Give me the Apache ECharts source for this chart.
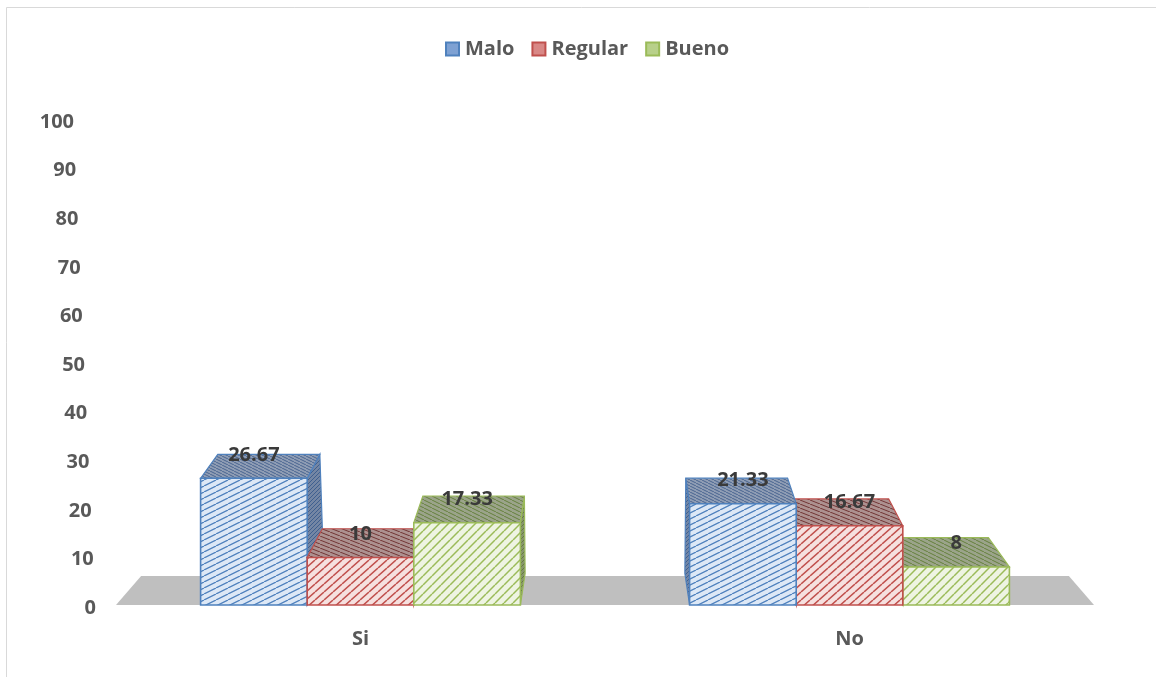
<!DOCTYPE html>
<html><head><meta charset="utf-8">
<script src="https://cdn.jsdelivr.net/npm/echarts@6/dist/echarts.min.js"></script>
<style>html,body{margin:0;padding:0;background:#fff}#c{width:1156px;height:677px}</style>
</head><body><div id="c"></div>
<script>
// ---- data ----
const categories = ['Si', 'No'];
const seriesNames = ['Malo', 'Regular', 'Bueno'];
const malo = [26.67, 21.33];
const regular = [10, 16.67];
const bueno = [17.33, 8];
const yTicks = [0, 10, 20, 30, 40, 50, 60, 70, 80, 90, 100];

// ---- style helpers ----
const FONT = "'Open Sans', 'DejaVu Sans', sans-serif";
const DEPTH0 = 31.6, DEPTH_SLOPE = 0.06, SKEW = 0.00177, FLOOR_DEPTH = 29;

function makePattern(bg, fg, w, h, lw, flip) {
  const c = document.createElement('canvas'); c.width = w; c.height = h;
  const g = c.getContext('2d');
  g.fillStyle = bg; g.fillRect(0, 0, w, h);
  g.strokeStyle = fg; g.lineWidth = lw;
  g.beginPath();
  for (let k = -1; k <= 1; k++) {
    if (!flip) { g.moveTo(k * w, h); g.lineTo((k + 1) * w, 0); }
    else { g.moveTo(k * w, 0); g.lineTo((k + 1) * w, h); }
  }
  g.stroke();
  return { image: c, repeat: 'repeat' };
}

const looks = [
  { border: '#4f81bd', legend: '#7ea1d3',
    front: makePattern('#dde8f6', '#4f81bd', 12, 6, 1.3),
    top: makePattern('#8f9db4', '#4a6590', 6, 3, 1, true),
    side: makePattern('#7486a4', '#3f5f8f', 4, 4, 1) },
  { border: '#c0504d', legend: '#d98886',
    front: makePattern('#f6e0df', '#c0504d', 9, 8, 1.5),
    top: makePattern('#ad9190', '#733736', 10, 4, 1, true),
    side: makePattern('#987574', '#733736', 4, 4, 1) },
  { border: '#9bbb59', legend: '#b8d08a',
    front: makePattern('#eef4e2', '#9bbb59', 9, 9, 1.5),
    top: makePattern('#9ba48a', '#66803c', 8, 4, 1, true),
    side: makePattern('#87946f', '#66803c', 4, 4, 1) }
];

function barRender(si) {
  return function (params, api) {
    const cat = api.value(0), v = api.value(1);
    const cs = params.coordSys;
    const band = api.size([1, 0])[0];
    const bw = band * 0.218;
    const top = api.coord([cat, v]);
    const base = api.coord([cat, 0]);
    const x0 = top[0] + (si - 1) * bw - bw / 2, x1 = x0 + bw;
    const yT = top[1], yB = base[1];
    const vx = cs.x + cs.width / 2;
    const back = (x, y) => {
      const d = DEPTH0 - DEPTH_SLOPE * (yB - y);
      return [x + d * SKEW * (vx - x), y - d];
    };
    const leftOfCenter = (x0 + x1) / 2 < vx;
    const order = leftOfCenter ? si : (2 - si);
    const zb = order * 10 + 5;
    const L = looks[si];
    const sx = leftOfCenter ? x1 : x0;
    return {
      type: 'group',
      children: [
        { type: 'polygon', z2: zb + 1,
          shape: { points: [[sx, yT], back(sx, yT), back(sx, yB), [sx, yB]] },
          style: { fill: L.side, stroke: L.border, lineWidth: 1.2 } },
        { type: 'polygon', z2: zb + 2,
          shape: { points: [[x0, yT], [x1, yT], back(x1, yT), back(x0, yT)] },
          style: { fill: L.top, stroke: L.border, lineWidth: 1.2 } },
        { type: 'rect', z2: zb + 3,
          shape: { x: x0, y: yT, width: bw, height: yB - yT },
          style: { fill: L.front, stroke: L.border, lineWidth: 1.6 } },
        { type: 'text', z2: 200,
          style: { text: String(v), x: (x0 + x1) / 2, y: yT - 23.5, align: 'center', verticalAlign: 'middle',
                   fontFamily: FONT, fontWeight: 'bold', fontSize: 20, fill: '#3a3a3a' } }
      ]
    };
  };
}

function floorRender(params, api) {
  const cs = params.coordSys;
  const y0 = api.coord([0, 0])[1];
  const vx = cs.x + cs.width / 2;
  const xl = cs.x, xr = cs.x + cs.width;
  const b = x => x + FLOOR_DEPTH * SKEW * (vx - x);
  return {
    type: 'polygon',
    shape: { points: [[xl, y0], [xr, y0], [b(xr), y0 - FLOOR_DEPTH], [b(xl), y0 - FLOOR_DEPTH]] },
    style: { fill: '#bfbfbf' }
  };
}

function tickRender(params, api) {
  const cs = params.coordSys;
  const v = api.value(1);
  const p = api.coord([0, v]);
  const p0 = api.coord([0, 0]);
  return {
    type: 'text',
    style: { text: String(v), x: cs.x - 20 - 0.22 * v, y: p0[1] + 3 - (p0[1] - p[1]) * 1.023,
             align: 'right', verticalAlign: 'middle',
             fontFamily: FONT, fontWeight: 'bold', fontSize: 20, fill: '#595959' }
  };
}

const values = [malo, regular, bueno];
const barSeries = seriesNames.map((name, si) => ({
  type: 'custom', name, z: 2, clip: false,
  renderItem: barRender(si),
  encode: { x: 0, y: 1 },
  itemStyle: { color: looks[si].legend, borderColor: looks[si].border, borderWidth: 1 },
  data: values[si].map((v, i) => [i, v])
}));

const chart = echarts.init(document.getElementById('c'));
chart.setOption({
  animation: false,
  backgroundColor: '#ffffff',
  graphic: [{ type: 'rect', silent: true, shape: { x: 6.5, y: 7.5, width: 1200, height: 700 },
              style: { fill: 'none', stroke: '#d9d9d9', lineWidth: 1 } }],
  legend: {
    data: seriesNames, left: 440, top: 34, icon: 'rect', itemWidth: 13, itemHeight: 13, itemGap: 17,
    textStyle: { fontFamily: FONT, fontWeight: 'bold', fontSize: 20, color: '#595959', padding: [0, 0, 0, 1] }
  },
  grid: { left: 116, width: 978, bottom: 72, height: 475 },
  xAxis: {
    type: 'category', data: categories,
    axisLine: { show: false }, axisTick: { show: false }, splitLine: { show: false },
    axisLabel: { margin: 24, fontFamily: FONT, fontWeight: 'bold', fontSize: 20, color: '#595959' }
  },
  yAxis: {
    type: 'value', min: 0, max: 100, interval: 10,
    axisLine: { show: false }, axisTick: { show: false }, splitLine: { show: false }, axisLabel: { show: false }
  },
  series: [
    { type: 'custom', name: 'floor', z: 1, clip: false, silent: true, renderItem: floorRender,
      encode: { x: 0, y: 1 }, data: [[0, 0]] },
    ...barSeries,
    { type: 'custom', name: 'ticks', z: 3, clip: false, silent: true, renderItem: tickRender,
      encode: { x: 0, y: 1 }, data: yTicks.map(v => [0, v]) }
  ]
});
</script></body></html>
